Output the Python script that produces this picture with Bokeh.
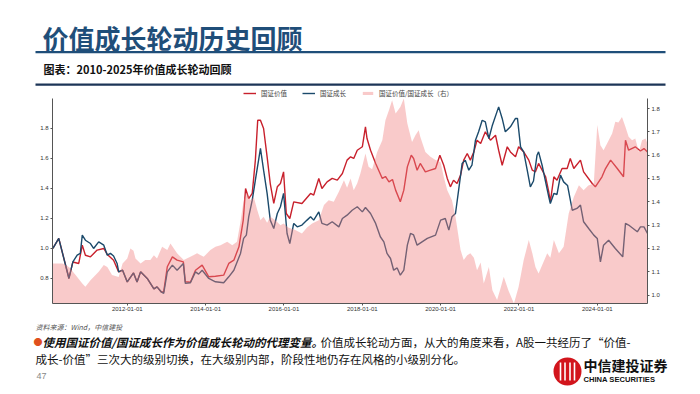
from datetime import datetime, timedelta

from bokeh.plotting import figure
from bokeh.layouts import column
from bokeh.models import (Range1d, LinearAxis, FixedTicker, NumeralTickFormatter,
                          DatetimeTickFormatter, Label, BoxAnnotation, Legend, LegendItem)
from bokeh.embed import file_html
from bokeh.resources import INLINE

# ---------------- data (dates as decimal years) ----------------
value_t = [2010.10, 2010.25, 2010.51, 2010.61, 2010.76, 2010.85, 2010.93, 2011.06, 2011.23, 2011.40,
           2011.49, 2011.65, 2011.78, 2011.88, 2012.00, 2012.16, 2012.25, 2012.34, 2012.51, 2012.68,
           2012.76, 2012.87, 2012.93, 2013.02, 2013.15, 2013.27, 2013.43, 2013.48, 2013.61, 2013.74,
           2013.91, 2014.08, 2014.25, 2014.46, 2014.59, 2014.72, 2014.85, 2014.96, 2015.02, 2015.10,
           2015.19, 2015.27, 2015.33, 2015.40, 2015.48, 2015.57, 2015.65, 2015.74, 2015.83, 2015.91,
           2015.99, 2016.06, 2016.15, 2016.25, 2016.46, 2016.68, 2016.76, 2016.89, 2016.97, 2017.10,
           2017.23, 2017.36, 2017.49, 2017.61, 2017.70, 2017.78, 2017.87, 2018.00, 2018.08, 2018.12,
           2018.21, 2018.34, 2018.51, 2018.59, 2018.68, 2018.77, 2018.85, 2018.97, 2019.06, 2019.15,
           2019.25, 2019.31, 2019.40, 2019.48, 2019.61, 2019.74, 2019.87, 2019.98, 2020.08, 2020.17,
           2020.25, 2020.33, 2020.42, 2020.51, 2020.59, 2020.68, 2020.76, 2020.85, 2020.93, 2021.02,
           2021.14, 2021.27, 2021.40, 2021.48, 2021.57, 2021.70, 2021.78, 2021.91, 2021.99, 2022.12,
           2022.25, 2022.34, 2022.42, 2022.50, 2022.68, 2022.76, 2022.80, 2022.89, 2022.97, 2023.10,
           2023.23, 2023.31, 2023.40, 2023.57, 2023.65, 2023.87, 2023.95, 2024.12, 2024.21, 2024.34,
           2024.51, 2024.67, 2024.72, 2024.80, 2024.97, 2025.10, 2025.19, 2025.28]
value_v = [1.000, 1.067, 0.800, 0.910, 0.900, 1.022, 0.955, 0.944, 0.989, 1.000,
           0.960, 0.922, 0.844, 0.855, 0.777, 0.837, 0.777, 0.844, 0.800, 0.730,
           0.744, 0.710, 0.710, 0.878, 0.944, 0.922, 0.911, 0.778, 0.775, 0.855,
           0.889, 0.811, 0.815, 0.822, 0.900, 0.922, 1.011, 1.189, 1.400, 1.333,
           1.367, 1.589, 1.855, 1.855, 1.800, 1.611, 1.433, 1.300, 1.411, 1.433,
           1.511, 1.233, 1.200, 1.311, 1.300, 1.367, 1.356, 1.467, 1.400, 1.444,
           1.467, 1.456, 1.500, 1.589, 1.611, 1.600, 1.655, 1.678, 1.811, 1.733,
           1.655, 1.567, 1.467, 1.480, 1.444, 1.460, 1.389, 1.311, 1.389, 1.544,
           1.622, 1.600, 1.522, 1.567, 1.511, 1.522, 1.533, 1.622, 1.555, 1.467,
           1.411, 1.455, 1.433, 1.489, 1.589, 1.633, 1.589, 1.644, 1.722, 1.700,
           1.778, 1.722, 1.755, 1.655, 1.555, 1.678, 1.644, 1.611, 1.678, 1.644,
           1.589, 1.522, 1.511, 1.567, 1.478, 1.378, 1.311, 1.478, 1.455, 1.533,
           1.533, 1.600, 1.533, 1.589, 1.511, 1.433, 1.411, 1.478, 1.533, 1.589,
           1.533, 1.478, 1.722, 1.655, 1.678, 1.650, 1.666, 1.644]

growth_t = [2010.10, 2010.25, 2010.51, 2010.61, 2010.72, 2010.80, 2010.85, 2010.93, 2011.06, 2011.14,
            2011.27, 2011.40, 2011.49, 2011.57, 2011.65, 2011.74, 2011.78, 2011.88, 2012.00, 2012.16,
            2012.25, 2012.34, 2012.51, 2012.68, 2012.76, 2012.87, 2012.93, 2013.02, 2013.15, 2013.27,
            2013.43, 2013.48, 2013.61, 2013.74, 2013.82, 2013.91, 2014.08, 2014.25, 2014.46, 2014.59,
            2014.72, 2014.89, 2014.97, 2015.04, 2015.10, 2015.19, 2015.27, 2015.40, 2015.48, 2015.57,
            2015.65, 2015.74, 2015.83, 2015.91, 2015.99, 2016.08, 2016.15, 2016.25, 2016.34, 2016.46,
            2016.59, 2016.68, 2016.76, 2016.89, 2016.97, 2017.10, 2017.23, 2017.40, 2017.49, 2017.61,
            2017.74, 2017.87, 2018.00, 2018.08, 2018.21, 2018.34, 2018.46, 2018.55, 2018.63, 2018.72,
            2018.80, 2018.89, 2018.97, 2019.06, 2019.15, 2019.23, 2019.31, 2019.40, 2019.66, 2019.87,
            2020.00, 2020.12, 2020.21, 2020.29, 2020.38, 2020.46, 2020.55, 2020.63, 2020.72, 2020.80,
            2020.89, 2020.97, 2021.06, 2021.14, 2021.23, 2021.32, 2021.48, 2021.57, 2021.65, 2021.78,
            2021.91, 2021.96, 2022.04, 2022.12, 2022.21, 2022.29, 2022.37, 2022.46, 2022.50, 2022.59,
            2022.76, 2022.80, 2022.89, 2022.97, 2023.06, 2023.14, 2023.24, 2023.36, 2023.48, 2023.57,
            2023.65, 2023.78, 2023.91, 2024.00, 2024.08, 2024.16, 2024.29, 2024.46, 2024.65, 2024.72,
            2024.80, 2025.02, 2025.10, 2025.19, 2025.28]
growth_v = [1.000, 1.067, 0.800, 0.910, 0.955, 0.967, 1.089, 1.055, 1.033, 1.000,
            1.044, 1.022, 0.955, 0.967, 0.950, 0.900, 0.844, 0.855, 0.777, 0.837,
            0.777, 0.844, 0.800, 0.730, 0.744, 0.710, 0.700, 0.844, 0.889, 0.855,
            0.900, 0.767, 0.771, 0.844, 0.829, 0.855, 0.800, 0.778, 0.771, 0.811,
            0.855, 0.967, 1.067, 1.089, 1.211, 1.322, 1.455, 1.667, 1.522, 1.367,
            1.189, 1.133, 1.233, 1.278, 1.367, 1.100, 1.033, 1.167, 1.144, 1.156,
            1.189, 1.211, 1.189, 1.244, 1.167, 1.156, 1.178, 1.144, 1.200, 1.222,
            1.255, 1.278, 1.244, 1.273, 1.233, 1.167, 1.078, 1.044, 0.967, 0.933,
            0.855, 0.870, 0.822, 0.855, 1.022, 1.100, 1.090, 1.022, 1.067, 1.089,
            1.189, 1.200, 1.122, 1.211, 1.233, 1.389, 1.567, 1.589, 1.522, 1.555,
            1.722, 1.778, 1.855, 1.844, 1.733, 1.822, 1.944, 1.867, 1.778, 1.811,
            1.867, 1.867, 1.678, 1.644, 1.522, 1.411, 1.450, 1.622, 1.644, 1.555,
            1.344, 1.300, 1.367, 1.360, 1.489, 1.444, 1.420, 1.255, 1.267, 1.289,
            1.178, 1.133, 1.089, 1.067, 0.911, 1.022, 1.055, 1.000, 0.944, 1.167,
            1.156, 1.111, 1.144, 1.144, 1.100]

ratio_t = [2010.10, 2010.34, 2010.51, 2010.68, 2010.85, 2010.93, 2011.06, 2011.27, 2011.40, 2011.49,
           2011.61, 2011.78, 2011.88, 2012.00, 2012.08, 2012.16, 2012.21, 2012.34, 2012.46, 2012.59,
           2012.68, 2012.76, 2012.89, 2013.02, 2013.10, 2013.27, 2013.44, 2013.61, 2013.78, 2013.95,
           2014.12, 2014.25, 2014.38, 2014.55, 2014.68, 2014.80, 2014.89, 2014.97, 2015.06, 2015.14,
           2015.23, 2015.32, 2015.40, 2015.48, 2015.57, 2015.65, 2015.78, 2015.91, 2015.99, 2016.11,
           2016.29, 2016.46, 2016.59, 2016.72, 2016.89, 2017.02, 2017.14, 2017.27, 2017.40, 2017.53,
           2017.61, 2017.70, 2017.78, 2017.87, 2017.95, 2018.08, 2018.16, 2018.25, 2018.38, 2018.51,
           2018.59, 2018.68, 2018.76, 2018.85, 2018.97, 2019.06, 2019.15, 2019.27, 2019.36, 2019.44,
           2019.48, 2019.61, 2019.74, 2019.87, 2020.00, 2020.08, 2020.17, 2020.29, 2020.38, 2020.51,
           2020.59, 2020.68, 2020.76, 2020.85, 2020.93, 2021.02, 2021.10, 2021.23, 2021.32, 2021.44,
           2021.53, 2021.61, 2021.73, 2021.87, 2021.99, 2022.12, 2022.25, 2022.34, 2022.42, 2022.50,
           2022.72, 2022.80, 2022.89, 2023.02, 2023.14, 2023.27, 2023.40, 2023.53, 2023.65, 2023.77,
           2023.91, 2024.00, 2024.08, 2024.16, 2024.25, 2024.38, 2024.46, 2024.54, 2024.63, 2024.72,
           2024.80, 2024.89, 2024.97, 2025.06, 2025.14, 2025.23, 2025.28]
ratio_v = [1.136, 1.136, 1.121, 1.086, 1.050, 1.036, 1.064, 1.100, 1.129, 1.120,
           1.086, 1.078, 1.136, 1.157, 1.200, 1.190, 1.157, 1.136, 1.150, 1.150,
           1.171, 1.157, 1.207, 1.193, 1.221, 1.179, 1.150, 1.164, 1.179, 1.164,
           1.193, 1.207, 1.214, 1.229, 1.214, 1.229, 1.314, 1.407, 1.436, 1.407,
           1.420, 1.364, 1.321, 1.336, 1.310, 1.336, 1.321, 1.300, 1.307, 1.290,
           1.279, 1.264, 1.290, 1.307, 1.321, 1.386, 1.407, 1.400, 1.443, 1.493,
           1.460, 1.500, 1.450, 1.480, 1.521, 1.607, 1.550, 1.540, 1.614, 1.664,
           1.750, 1.793, 1.836, 1.779, 1.807, 1.843, 1.736, 1.657, 1.686, 1.707,
           1.679, 1.614, 1.593, 1.579, 1.570, 1.507, 1.450, 1.407, 1.336, 1.193,
           1.150, 1.171, 1.179, 1.160, 1.107, 1.140, 1.050, 1.121, 1.021, 0.979,
           1.030, 1.079, 1.020, 0.964, 1.036, 1.150, 1.236, 1.179, 1.121, 1.093,
           1.179, 1.160, 1.236, 1.179, 1.207, 1.350, 1.421, 1.471, 1.450, 1.470,
           1.479, 1.729, 1.643, 1.621, 1.650, 1.693, 1.743, 1.740, 1.764, 1.721,
           1.679, 1.664, 1.671, 1.614, 1.664, 1.671, 1.650]

left_ticks = [0.8, 1.0, 1.2, 1.4, 1.6, 1.8]
right_ticks = [1.0, 1.1, 1.2, 1.3, 1.4, 1.5, 1.6, 1.7, 1.8]
x_tick_years = [2012, 2014, 2016, 2018, 2020, 2022, 2024]

legend_labels = ["国证价值", "国证成长", "国证价值/国证成长（右）"]
title_text = "价值成长轮动历史回顾"
subtitle_text = "图表：2010-2025年价值成长轮动回顾"
source_text = "资料来源：Wind，中信建投"
bullet_bold = "使用国证价值/国证成长作为价值成长轮动的代理变量。"
bullet_rest = "价值成长轮动方面，从大的角度来看，A股一共经历了“价值-"
bullet_line2 = "成长-价值”三次大的级别切换，在大级别内部，阶段性地仍存在风格的小级别分化。"
page_no = "47"
logo_cn = "中信建投证券"
logo_en = "CHINA SECURITIES"

RED = "#c8202c"
BLUE = "#1b4a6b"
PINK = "#f08080"
PINK_ALPHA = 0.42


def to_dt(y):
    yr = int(y)
    return datetime(yr, 1, 1) + timedelta(days=(y - yr) * 365.25)


def to_ms(d):
    return (d - datetime(1970, 1, 1)).total_seconds() * 1000.0


value_x = [to_dt(t) for t in value_t]
growth_x = [to_dt(t) for t in growth_t]
ratio_x = [to_dt(t) for t in ratio_t]

CJK = "Noto Sans CJK SC"
LAT = "Liberation Sans"
W = 700
TOP_H, CHART_H, BOT_H = 98, 220, 76


def no_align(f):
    try:
        f.frame_align = False
    except Exception:
        pass


def deco_fig(h):
    f = figure(width=W, height=h, output_backend="svg", toolbar_location=None,
               x_range=Range1d(0, W), y_range=Range1d(h, 0),
               x_axis_location=None, y_axis_location=None,
               min_border=0, min_border_left=0, min_border_right=0,
               min_border_top=0, min_border_bottom=0)
    f.grid.visible = False
    f.outline_line_color = None
    f.background_fill_color = "white"
    f.border_fill_color = "white"
    no_align(f)
    return f


def lab(f, px, py, text, size, color="#111111", style="normal", font=CJK, align="left"):
    f.add_layout(Label(x=px, y=py, text=text, text_font=font, text_font_size=size,
                       text_color=color, text_font_style=style,
                       text_baseline="middle", text_align=align))


def rule(f, x0, x1, y0, y1, color):
    f.add_layout(BoxAnnotation(left=x0, right=x1, top=y0, bottom=y1,
                               fill_color=color, fill_alpha=1, line_color=None))


# ---------------- top: title, rules, subtitle, legend ----------------
top = deco_fig(TOP_H)
lab(top, 42, 36.5, title_text, "26px", color="#1f4e79", style="bold")
rule(top, 35, 665, 50.5, 52.8, "#1f4e79")
lab(top, 43, 68, subtitle_text, "11px", color="#111111", style="bold")
rule(top, 35, 665, 83.0, 85.3, "#1c3557")

# legend swatches (renderers placed outside the visible range of this panel)
lg_val = top.line([-60, -50], [-60, -60], line_color=RED, line_width=1.4)
lg_gro = top.line([-60, -50], [-60, -60], line_color=BLUE, line_width=1.4)
lg_rat = top.varea(x=[-60, -50], y1=[-60, -60], y2=[-55, -55],
                   fill_color=PINK, fill_alpha=PINK_ALPHA)
legend = Legend(items=[LegendItem(label=legend_labels[0], renderers=[lg_val]),
                       LegendItem(label=legend_labels[1], renderers=[lg_gro]),
                       LegendItem(label=legend_labels[2], renderers=[lg_rat])],
                orientation="horizontal", location=(243, 0),
                label_text_font=CJK, label_text_font_size="6.5px", label_text_color="#444444",
                glyph_width=13, glyph_height=4, label_height=7, label_standoff=5,
                spacing=15, padding=0, margin=0,
                background_fill_alpha=0, border_line_color=None)
top.add_layout(legend, "center")

# ---------------- chart ----------------
p = figure(width=W, height=CHART_H, x_axis_type="datetime", output_backend="svg",
           toolbar_location=None,
           x_range=Range1d(to_dt(2010.09), to_dt(2025.28)),
           y_range=Range1d(0.633, 2.0),
           min_border_left=52, min_border_right=53, min_border_top=0, min_border_bottom=15)
no_align(p)
p.extra_y_ranges = {"right": Range1d(0.964, 1.843)}
p.outline_line_color = None
p.xgrid.visible = False
p.ygrid.visible = False
p.background_fill_color = "white"
p.border_fill_color = "white"

p.line(value_x, value_v, line_color=RED, line_width=1.4)
p.line(growth_x, growth_v, line_color=BLUE, line_width=1.4)
p.varea(x=ratio_x, y1=0.9, y2=ratio_v, y_range_name="right",
        fill_color=PINK, fill_alpha=PINK_ALPHA)

ax_l = p.yaxis[0]
ax_l.ticker = FixedTicker(ticks=left_ticks)
ax_l.formatter = NumeralTickFormatter(format="0.0")
ax_r = LinearAxis(y_range_name="right", ticker=FixedTicker(ticks=right_ticks),
                  formatter=NumeralTickFormatter(format="0.0"))
p.add_layout(ax_r, "right")
ax_b = p.xaxis[0]
ax_b.ticker = FixedTicker(ticks=[to_ms(datetime(y, 1, 1)) for y in x_tick_years])
fmt = "%Y-%m-%d"
ax_b.formatter = DatetimeTickFormatter(years=fmt, months=fmt, days=fmt, hours=fmt,
                                       minutes=fmt, seconds=fmt, milliseconds=fmt,
                                       microseconds=fmt, minsec=fmt, hourmin=fmt)
for ax in (ax_l, ax_r, ax_b):
    ax.axis_line_color = "#555555"
    ax.axis_line_width = 1
    ax.major_tick_out = 2
    ax.major_tick_in = 0
    ax.minor_tick_out = 0
    ax.minor_tick_in = 0
    ax.major_tick_line_color = "#555555"
    ax.major_label_text_font = LAT
    ax.major_label_text_font_size = "6px"
    ax.major_label_text_color = "#333333"
    ax.major_label_standoff = 2
ax_b.major_label_standoff = 1

# ---------------- bottom: source, bullet text, page number, logo ----------------
bot = deco_fig(BOT_H)
Y0 = CHART_H + TOP_H  # page y of this panel's top
lab(bot, 35, 326 - Y0, source_text, "7px", color="#555555", style="italic")
lab(bot, 33, 341 - Y0, "●", "9px", color="#e0501e")
lab(bot, 42, 341 - Y0, bullet_bold, "11.5px", color="#111111", style="bold italic")
lab(bot, 320, 341 - Y0, bullet_rest, "11.5px", color="#111111")
lab(bot, 35, 358 - Y0, bullet_line2, "11.5px", color="#111111")
lab(bot, 36, 375 - Y0, page_no, "9px", color="#888888", font=LAT)

bot.circle(x=[567], y=[371 - Y0], radius=14, fill_color="#d2151c", line_color=None)
bot.segment(x0=[560, 564.5, 569.5, 574], y0=[362 - Y0] * 4, x1=[560, 564.5, 569.5, 574],
            y1=[380 - Y0] * 4, line_color="white", line_width=1.6)
lab(bot, 583, 364 - Y0, logo_cn, "14px", color="#111111", style="bold")
lab(bot, 583, 379 - Y0, logo_en, "7.6px", color="#111111", style="bold", font=LAT)

layout = column(top, p, bot, spacing=0)
open("out.html", "w").write(file_html(layout, INLINE))
